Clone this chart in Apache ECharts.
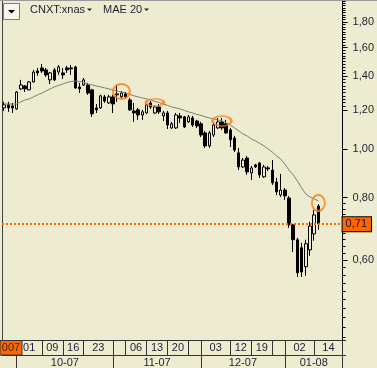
<!DOCTYPE html>
<html><head><meta charset="utf-8">
<script src="https://cdn.jsdelivr.net/npm/echarts@6/dist/echarts.min.js"></script>
<style>html,body{margin:0;padding:0;background:#EEECD0;}#c{width:377px;height:368px;}</style>
</head><body><div id="c"></div>
<script>
// ---------- data ----------
const dates = ['2007-09-26','2007-09-27','2007-09-28','2007-10-01','2007-10-02','2007-10-03','2007-10-04','2007-10-05','2007-10-08','2007-10-09','2007-10-10','2007-10-11','2007-10-12','2007-10-15','2007-10-16','2007-10-17','2007-10-18','2007-10-19','2007-10-22','2007-10-23','2007-10-24','2007-10-25','2007-10-26','2007-10-29','2007-10-30','2007-10-31','2007-11-01','2007-11-02','2007-11-05','2007-11-06','2007-11-07','2007-11-08','2007-11-09','2007-11-12','2007-11-13','2007-11-14','2007-11-15','2007-11-16','2007-11-19','2007-11-20','2007-11-21','2007-11-23','2007-11-26','2007-11-27','2007-11-28','2007-11-29','2007-11-30','2007-12-03','2007-12-04','2007-12-05','2007-12-06','2007-12-07','2007-12-10','2007-12-11','2007-12-12','2007-12-13','2007-12-14','2007-12-17','2007-12-18','2007-12-19','2007-12-20','2007-12-21','2007-12-24','2007-12-26','2007-12-27','2007-12-28','2007-12-31','2008-01-02','2008-01-03','2008-01-04','2008-01-07','2008-01-08','2008-01-09','2008-01-10','2008-01-11','2008-01-14'];
const futureDates = ['2008-01-15','2008-01-16','2008-01-17','2008-01-18','2008-01-22','2008-01-23'];

const opens = [1.211,1.228,1.222,1.205,1.322,1.340,1.316,1.365,1.436,1.456,1.443,1.378,1.443,1.429,1.423,1.456,1.456,1.463,1.334,1.346,
1.346,1.316,1.211,1.211,1.274,1.239,1.274,1.286,1.274,1.292,1.256,1.194,1.200,1.172,1.183,1.239,1.183,1.216,1.167,
1.183,1.104,1.104,1.167,1.162,1.135,1.156,1.140,1.125,1.079,1.016,1.069,1.104,1.135,1.125,1.094,
1.054,0.984,0.922,0.961,0.897,0.931,0.939,0.881,0.918,0.909,0.860,0.810,0.829,0.799,0.706,0.659,0.635,0.582,0.629,0.677,0.770];
const closes = [1.228,1.211,1.211,1.303,1.346,1.322,1.365,1.429,1.423,1.436,1.410,1.423,1.378,1.463,1.410,1.443,1.450,1.328,1.322,1.378,
1.297,1.178,1.200,1.280,1.250,1.274,1.233,1.292,1.297,1.274,1.200,1.183,1.172,1.189,1.228,1.216,1.216,1.189,1.183,
1.119,1.125,1.172,1.156,1.109,1.162,1.119,1.114,1.069,1.016,1.079,1.119,1.135,1.104,1.079,1.045,
0.997,0.922,0.952,0.901,0.918,0.922,0.889,0.922,0.914,0.857,0.822,0.829,0.807,0.706,0.659,0.566,0.568,0.647,0.702,0.739,0.709];
const lows = [1.194,1.189,1.183,1.200,1.316,1.303,1.314,1.362,1.403,1.423,1.397,1.352,1.371,1.410,1.384,1.423,1.410,1.322,1.297,1.340,
1.286,1.162,1.183,1.205,1.239,1.233,1.183,1.245,1.268,1.262,1.194,1.135,1.146,1.146,1.178,1.205,1.178,1.178,1.140,
1.099,1.099,1.099,1.130,1.104,1.130,1.109,1.104,1.059,1.007,1.007,1.059,1.099,1.094,1.074,1.011,
0.988,0.909,0.918,0.889,0.868,0.918,0.877,0.877,0.905,0.849,0.810,0.803,0.792,0.696,0.623,0.555,0.555,0.558,0.612,0.656,0.690];
const highs = [1.245,1.245,1.239,1.309,1.378,1.346,1.371,1.443,1.456,1.483,1.456,1.429,1.456,1.476,1.456,1.470,1.476,1.470,1.359,1.390,
1.359,1.322,1.233,1.286,1.286,1.286,1.286,1.346,1.309,1.303,1.268,1.239,1.211,1.200,1.233,1.250,1.222,1.233,1.194,
1.194,1.135,1.183,1.183,1.167,1.172,1.167,1.146,1.135,1.089,1.089,1.130,1.156,1.156,1.146,1.104,
1.064,1.007,0.961,0.970,0.926,0.935,0.944,0.931,0.926,0.952,0.877,0.893,0.837,0.807,0.709,0.665,0.650,0.659,0.716,0.756,0.777];
const mae20 = [1.233,1.233,1.233,1.233,1.245,1.256,1.262,1.274,1.286,1.297,1.309,1.322,1.334,1.343,1.352,1.362,1.368,1.371,1.368,1.362,
1.352,1.346,1.340,1.334,1.328,1.322,1.316,1.309,1.303,1.297,1.289,1.280,1.274,1.268,1.262,1.256,1.247,1.242,1.233,
1.225,1.216,1.211,1.205,1.197,1.189,1.183,1.175,1.170,1.162,1.156,1.151,1.146,1.140,1.130,1.119,
1.104,1.089,1.074,1.064,1.049,1.040,1.028,1.016,1.002,0.988,0.970,0.957,0.935,0.909,0.889,0.864,0.837,0.814,0.803,0.796,0.788];

const lastPrice = 0.71;
const ringDates = ['2007-11-05','2007-11-15','2007-12-10','2008-01-14'];
const ringValues = [1.306,1.242,1.140,0.781];

const yRange = [0.415, 1.992];
const yTickValues = [0.6,0.8,1.0,1.2,1.4,1.6,1.8];
const weekTickDates = ['2007-10-01','2007-10-09','2007-10-16','2007-10-23','2007-11-01','2007-11-06','2007-11-13','2007-11-20','2007-11-28','2007-12-03','2007-12-12','2007-12-19','2007-12-27','2008-01-02','2008-01-11'];
const weekTickLabels = ['01','09','16','23','','06','13','20','','03','12','19','','02','14'];
const monthTickDates = ['2007-10-01','2007-11-01','2007-12-03','2008-01-02'];
const monthLabels = ['10-07','11-07','12-07','01-08'];
const yearLabel = '007';
const legendSymbol = 'CNXT:xnas';
const legendIndicator = 'MAE 20';

// ---------- build ----------
const BG = '#EEECD0';
const FONT = '"Liberation Sans", Arial, sans-serif';
const TXT = '#1c2030';
const lg = v => Math.log10(v);
const cats = dates.concat(futureDates);
const N = cats.length;
const idx = d => cats.indexOf(d);
const panelEnd = N - 1.2;

const candle = dates.map((d, i) => [lg(opens[i]), lg(closes[i]), lg(lows[i]), lg(highs[i])]);
const ma = mae20.map(lg);
const ringSizes = [[17,15],[18,7],[19,10],[13,16]];
const rings = ringDates.map((d, k) => ({value: [idx(d), lg(ringValues[k])], symbolSize: ringSizes[k]}));

const minorTicks = [];
for (let t = 42; t <= 198; t += 2) {
  const v = t / 100;
  if (yTickValues.some(m => Math.abs(m - v) < 1e-9)) continue;
  if (v > 0.8 && v < 1.2) continue;
  minorTicks.push(lg(v));
}

function cells(tickDates, labels, end) {
  const bounds = tickDates.map(idx).concat([end]);
  const centers = [], text = [];
  labels.forEach((l, k) => { if (!l) return; centers.push((bounds[k] + bounds[k + 1]) / 2); text.push(l); });
  const fmt = v => { let best = 0, bd = 1e9; centers.forEach((c, k) => { const dd = Math.abs(c - v); if (dd < bd) { bd = dd; best = k; } }); return text[best]; };
  return {bounds, centers, fmt};
}
const wk = cells(weekTickDates, weekTickLabels, panelEnd);
const mo = cells(monthTickDates, monthLabels, panelEnd);

const yMin = lg(yRange[0]), yMax = lg(yRange[1]);
const chart = echarts.init(document.getElementById('c'), null, {renderer: 'canvas'});
chart.setOption({
  backgroundColor: BG,
  animation: false,
  grid: {left: 2, right: 31, top: 0, bottom: 28, containLabel: false},
  xAxis: [
    {type: 'category', data: cats, boundaryGap: true, position: 'bottom',
     axisLine: {show: true, onZero: false, lineStyle: {color: '#333', width: 1}}, axisTick: {show: false}, axisLabel: {show: false}, splitLine: {show: false}},
    {type: 'value', min: -0.5, max: N - 0.5, position: 'bottom', offset: 0,
     axisLine: {show: false, onZero: false},
     axisTick: {show: true, customValues: wk.bounds, length: 15, lineStyle: {color: '#333', width: 1}},
     axisLabel: {show: true, customValues: wk.centers, formatter: wk.fmt, margin: 2, color: TXT, fontSize: 11, fontFamily: FONT},
     splitLine: {show: false}},
    {type: 'value', min: -0.5, max: N - 0.5, position: 'bottom', offset: 15,
     axisLine: {show: true, onZero: false, lineStyle: {color: '#333', width: 1}},
     axisTick: {show: true, customValues: mo.bounds, length: 14, lineStyle: {color: '#333', width: 1}},
     axisLabel: {show: true, customValues: mo.centers, formatter: mo.fmt, margin: 2, color: TXT, fontSize: 11, fontFamily: FONT},
     splitLine: {show: false}}
  ],
  yAxis: [
    {type: 'value', position: 'right', offset: -3, min: yMin, max: yMax,
     axisLine: {show: true, onZero: false, lineStyle: {color: '#000', width: 1}},
     axisTick: {show: true, customValues: yTickValues.map(lg), length: 5, lineStyle: {color: '#000'}},
     axisLabel: {show: true, customValues: yTickValues.map(lg), formatter: v => Math.pow(10, v).toFixed(2).replace('.', ','), margin: 10, color: TXT, fontSize: 11, fontFamily: FONT},
     splitLine: {show: false}},
    {type: 'value', position: 'right', offset: -3, min: yMin, max: yMax,
     axisLine: {show: true, onZero: false, lineStyle: {color: '#000', width: 1}},
     axisTick: {show: true, customValues: minorTicks, length: 3, lineStyle: {color: '#000', width: 1}},
     axisLabel: {show: false}, splitLine: {show: false}},
    {type: 'value', position: 'left', min: yMin, max: yMax,
     axisLine: {show: true, onZero: false, lineStyle: {color: '#444', width: 1}},
     axisTick: {show: false}, axisLabel: {show: false}, splitLine: {show: false}}
  ],
  series: [
    {type: 'candlestick', data: candle, barWidth: 3,
     itemStyle: {color: BG, color0: '#000', borderColor: '#000', borderColor0: '#000', borderWidth: 1},
     markLine: {silent: true, symbol: ['none', 'none'], animation: false,
       data: [{yAxis: lg(lastPrice)}],
       lineStyle: {color: '#FF6A00', type: [2, 2], width: 2},
       label: {show: true, position: 'end', distance: -3, formatter: lastPrice.toFixed(2).replace('.', ','),
         backgroundColor: '#FF6600', borderColor: '#000', borderWidth: 1, padding: [2, 4, 1, 3],
         color: '#111', fontSize: 11, fontFamily: FONT},
       emphasis: {disabled: true}}},
    {type: 'line', data: ma, showSymbol: false, symbol: 'none', lineStyle: {color: '#7e7e70', width: 1}, z: 3},
    {type: 'scatter', data: rings, symbol: 'circle', z: 5,
     itemStyle: {color: 'rgba(0,0,0,0)', borderColor: '#FF7A10', borderWidth: 2}}
  ],
  graphic: [
    {type: 'line', shape: {x1: 0, y1: 0.5, x2: 377, y2: 0.5}, style: {stroke: '#9a9a9a', lineWidth: 1}, z: 100},
    {type: 'rect', shape: {x: 3.5, y: 3.5, width: 16, height: 16}, style: {fill: '#F6F5EE', stroke: '#7a7a7a', lineWidth: 1}, z: 100},
    {type: 'polygon', shape: {points: [[8, 10], [15, 10], [11.5, 13.5]]}, style: {fill: '#000'}, z: 101},
    {type: 'text', x: 30, y: 10, style: {text: legendSymbol, font: '11px ' + FONT, fill: TXT, verticalAlign: 'middle'}, z: 100},
    {type: 'polygon', shape: {points: [[87, 8.5], [92, 8.5], [89.5, 11]]}, style: {fill: TXT}, z: 100},
    {type: 'text', x: 103, y: 10, style: {text: legendIndicator, font: '11px ' + FONT, fill: TXT, verticalAlign: 'middle'}, z: 100},
    {type: 'polygon', shape: {points: [[144, 8.5], [149, 8.5], [146.5, 11]]}, style: {fill: TXT}, z: 100},
    {type: 'rect', shape: {x: 0, y: 340.5, width: 22, height: 14.5}, style: {fill: '#FF6600', stroke: '#333', lineWidth: 1}, z: 100},
    {type: 'text', x: 11, y: 348, style: {text: yearLabel, font: '11px ' + FONT, fill: '#3a2a10', align: 'center', verticalAlign: 'middle'}, z: 101}
  ]
});
</script></body></html>
